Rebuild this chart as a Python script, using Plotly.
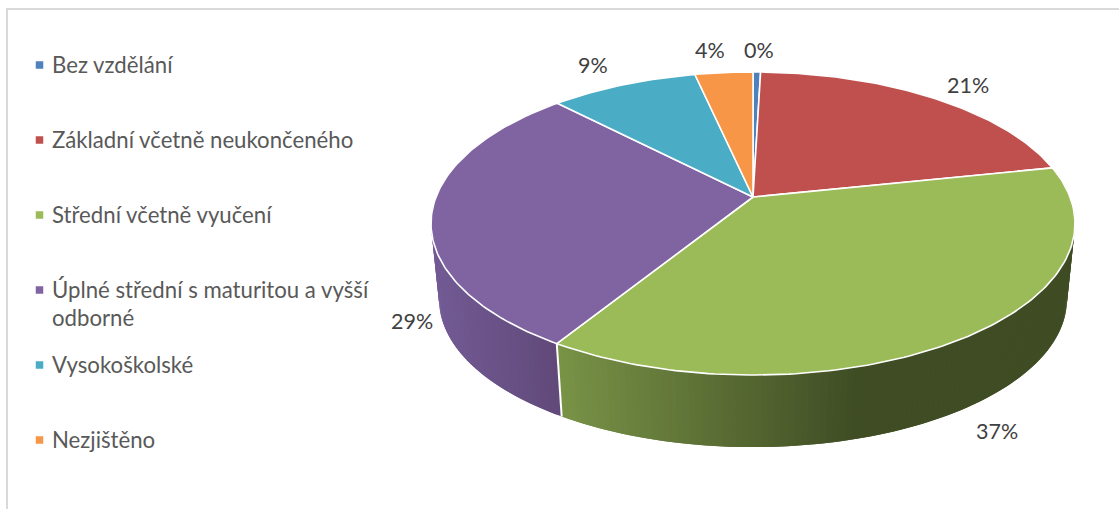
import math
import plotly.graph_objects as go

# --- data ---
categories = ["Bez vzdělání", "Základní včetně neukončeného", "Střední včetně vyučení",
              "Úplné střední s maturitou a vyšší|odborné", "Vysokoškolské", "Nezjištěno"]
shares = [0.45, 21.3, 37.2, 29.0, 8.8, 3.45]
percent_labels = ["0%", "21%", "37%", "29%", "9%", "4%"]

# --- style ---
colors = ["#4F81BD", "#C0504D", "#9BBB59", "#8064A2", "#4BACC6", "#F79646"]
TXT_LEGEND = "#595959"
TXT_LABEL = "#404040"
FONT = "Lato, sans-serif"
LEGEND_SIZE = 22.2
LABEL_SIZE = 21.5
legend_y = [65, 140, 215, 290, 365, 440]
legend_text_y_shift = 1
legend_line_gap = 28
legend_mark_x = 39.5
legend_text_x = 50
label_pos = [(759, 50), (968, 85), (997, 431), (412, 321), (593, 65), (710, 50)]

# --- projection of the pie disc to the page (perspective camera) ---
CX, CY, SX, SY, PERSP = 753, 197, 317, 146.9, 0.175
BOTTOM_Y, BOTTOM_K = 273.5, 0.975


def top(theta):
    s, p = math.sin(theta), math.cos(theta)
    w = 1 + PERSP * p
    return CX + SX * s / w, CY - SY * p / w


def bottom(theta):
    s, p = math.sin(theta), math.cos(theta)
    w = 1 + PERSP * p
    return CX + BOTTOM_K * SX * s / w, BOTTOM_Y - BOTTOM_K * SY * p / w


def mix(c1, c2, t):
    return "rgb(%d,%d,%d)" % tuple(round(a + (b - a) * t) for a, b in zip(c1, c2))


total = sum(shares)
edges = [0.0]
for v in shares:
    edges.append(edges[-1] + v / total * 2 * math.pi)

fig = go.Figure()


def wall_color(idx, x):
    if idx == 2:  # green wall: lighter at the left, dark from x≈870
        t = min(max((x - 560) / 300, 0), 1)
        return mix((120, 146, 70), (63, 76, 36), t)
    t = min(max((x - 435) / 125, 0), 1)  # purple wall
    return mix((114, 90, 148), (96, 73, 120), t)


# side wall, drawn as thin overlapping gradient bands
for idx in (2, 3):
    a0, a1 = edges[idx], edges[idx + 1]
    n = max(int((a1 - a0) / math.radians(1.0)), 1)
    step = (a1 - a0) / n
    for i in range(n):
        t0 = a0 + step * i
        t1 = min(t0 + 2 * step, a1)
        pts = [top(t0), top(t1), bottom(t1), bottom(t0), top(t0)]
        col = wall_color(idx, (top(t0)[0] + top(t0 + step)[0]) / 2)
        fig.add_trace(go.Scatter(x=[q[0] for q in pts], y=[q[1] for q in pts], mode="lines",
                                 fill="toself", fillcolor=col, line=dict(width=0),
                                 hoverinfo="skip", showlegend=False))

# white seam between the walls
seam = edges[3]
fig.add_trace(go.Scatter(x=[top(seam)[0], bottom(seam)[0]], y=[top(seam)[1], bottom(seam)[1]],
                         mode="lines", line=dict(color="white", width=2),
                         hoverinfo="skip", showlegend=False))

# top face
for i, name in enumerate(categories):
    a0, a1 = edges[i], edges[i + 1]
    n = max(int((a1 - a0) / math.radians(1.0)), 2)
    rim = [top(a0 + (a1 - a0) * k / n) for k in range(n + 1)]
    pts = [(CX, CY)] + rim + [(CX, CY)]
    fig.add_trace(go.Scatter(x=[q[0] for q in pts], y=[q[1] for q in pts], mode="lines",
                             fill="toself", fillcolor=colors[i], line=dict(color="white", width=1.6),
                             name=name.replace("|", " "), hoverinfo="name", showlegend=False))

# legend markers
fig.add_trace(go.Scatter(x=[legend_mark_x] * len(categories), y=legend_y, mode="markers",
                         marker=dict(symbol="square", size=7.5, color=colors, line=dict(width=0)),
                         hoverinfo="skip", showlegend=False))

annotations = []
for name, y in zip(categories, legend_y):
    for k, line in enumerate(name.split("|")):
        annotations.append(dict(x=legend_text_x, y=y - legend_text_y_shift + k * legend_line_gap,
                                text=line, showarrow=False, xanchor="left", yanchor="middle",
                                font=dict(family=FONT, size=LEGEND_SIZE, color=TXT_LEGEND)))
for lab, (x, y) in zip(percent_labels, label_pos):
    annotations.append(dict(x=x, y=y, text=lab, showarrow=False, xanchor="center", yanchor="middle",
                            font=dict(family=FONT, size=LABEL_SIZE, color=TXT_LABEL)))

border = dict(color="#D9D9D9", width=2)
fig.update_layout(
    width=1119, height=509, margin=dict(l=0, r=0, t=0, b=0),
    paper_bgcolor="white", plot_bgcolor="white", showlegend=False,
    xaxis=dict(range=[0, 1119], visible=False, fixedrange=True),
    yaxis=dict(range=[509, 0], visible=False, fixedrange=True),
    annotations=annotations,
    shapes=[dict(type="line", x0=7, x1=1119, y0=9, y1=9, line=border),
            dict(type="line", x0=7, x1=7, y0=8, y1=509, line=border)],
)
fig.write_html("out.html", config={"displayModeBar": False},
               post_script="document.body.style.margin='0';document.body.style.overflow='hidden';")
